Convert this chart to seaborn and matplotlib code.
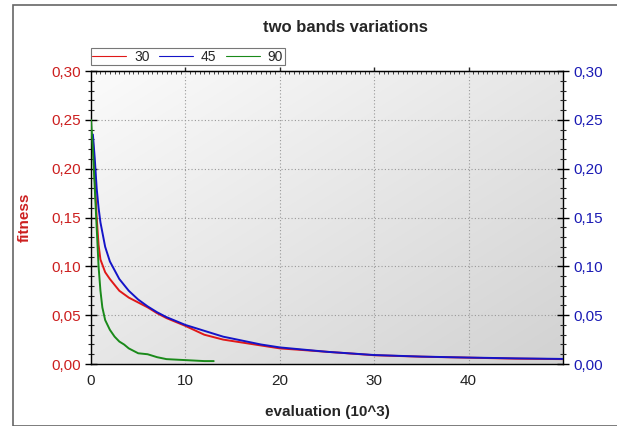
import numpy as np
import pandas as pd
import matplotlib
matplotlib.use('Agg')
import matplotlib.pyplot as plt
import seaborn as sns
from matplotlib.ticker import FuncFormatter, MultipleLocator, NullFormatter
from matplotlib.patches import Rectangle

# Data (evaluations in 10^3)
red_x = [0.2, 0.4, 0.6, 0.8, 1.0, 1.5, 2, 3, 4, 5, 6, 7, 8, 10, 12, 14, 16, 18, 20, 25, 30, 35, 40, 45, 50]
red_y = [0.23, 0.19, 0.15, 0.122, 0.107, 0.094, 0.087, 0.075, 0.068, 0.063, 0.058, 0.052, 0.047, 0.039,
         0.030, 0.025, 0.022, 0.019, 0.016, 0.0125, 0.009, 0.0075, 0.0065, 0.0055, 0.005]

blue_x = [0.2, 0.4, 0.6, 0.8, 1.0, 1.5, 2, 3, 4, 5, 6, 7, 8, 10, 12, 14, 16, 18, 20, 25, 30, 35, 40, 45, 50]
blue_y = [0.235, 0.21, 0.18, 0.16, 0.145, 0.12, 0.105, 0.087, 0.075, 0.066, 0.059, 0.053, 0.048, 0.040,
          0.034, 0.028, 0.024, 0.020, 0.017, 0.0125, 0.0092, 0.0076, 0.0066, 0.0058, 0.0052]

green_x = [0, 0.2, 0.4, 0.6, 0.8, 1.0, 1.2, 1.5, 2, 2.5, 3, 3.5, 4, 5, 6, 7, 8, 9, 10, 11, 12, 13]
green_y = [0.25, 0.22, 0.18, 0.14, 0.10, 0.075, 0.058, 0.045, 0.035, 0.028, 0.023, 0.020, 0.016, 0.011,
           0.010, 0.007, 0.005, 0.0045, 0.004, 0.0035, 0.003, 0.003]

series_names = ['30', '45', '90']
series_colors = ['#e01818', '#1414c8', '#1a8a1a']

df = pd.concat([
    pd.DataFrame({'x': red_x, 'y': red_y, 'band': '30'}),
    pd.DataFrame({'x': blue_x, 'y': blue_y, 'band': '45'}),
    pd.DataFrame({'x': green_x, 'y': green_y, 'band': '90'}),
])

sns.set_style('white')
plt.rcParams['font.family'] = ['Liberation Sans', 'DejaVu Sans']

fig = plt.figure(figsize=(6.17, 4.26), dpi=100)
ax = fig.add_axes([0.1475, 0.1455, 0.765, 0.6878])

# gradient background: light top-left, darker bottom-right
gx, gy = np.meshgrid(np.linspace(0, 1, 200), np.linspace(0, 1, 200))
grad = 0.5 * gx + 0.5 * gy
ax.imshow(grad, extent=[0, 50, 0, 0.30], aspect='auto', origin='upper',
          cmap=matplotlib.colors.LinearSegmentedColormap.from_list('g', ['#fbfbfb', '#d2d2d2']),
          zorder=0, interpolation='bicubic')

sns.lineplot(data=df, x='x', y='y', hue='band', palette=series_colors, hue_order=series_names,
             estimator=None, sort=False, linewidth=1.4, ax=ax, zorder=3)

ax.set_xlim(0, 50)
ax.set_ylim(0, 0.30)
ax.set_xticks([0, 10, 20, 30, 40])
ax.xaxis.set_minor_locator(MultipleLocator(2))
ax.yaxis.set_major_locator(MultipleLocator(0.05))
ax.yaxis.set_minor_locator(MultipleLocator(0.01))
comma = FuncFormatter(lambda v, p: f'{v:.2f}'.replace('.', ','))
ax.yaxis.set_major_formatter(comma)
ax.grid(True, which='major', color='#999999', linestyle=(0, (1, 2)), linewidth=0.8, zorder=1)

ax.tick_params(axis='y', which='major', direction='inout', length=8, width=1, colors='black',
               labelcolor='#cc1f1f', labelsize=11)
ax.tick_params(axis='y', which='minor', direction='inout', length=5, width=0.8)
ax.tick_params(axis='x', which='major', direction='inout', length=8, width=1, labelsize=11,
               labelcolor='#222222', top=False)
ax.tick_params(axis='x', which='minor', direction='inout', length=5, width=0.8, top=False)
for s in ax.spines.values():
    s.set_color('black')
    s.set_linewidth(1)

# small ticks along the top edge
top = ax.secondary_xaxis('top')
top.set_xticks([10, 20, 30, 40])
top.xaxis.set_minor_locator(MultipleLocator(0.5))
top.xaxis.set_major_formatter(NullFormatter())
top.tick_params(which='major', direction='out', length=3, width=1)
top.tick_params(which='minor', direction='in', length=2, width=0.6)

ax.set_xlabel('evaluation (10^3)', fontsize=11, fontweight='bold', labelpad=12)
ax.set_ylabel('fitness', fontsize=11, fontweight='bold', color='#cc1f1f', labelpad=14)

ax2 = ax.twinx()
ax2.set_ylim(0, 0.30)
ax2.yaxis.set_major_locator(MultipleLocator(0.05))
ax2.yaxis.set_minor_locator(MultipleLocator(0.01))
ax2.yaxis.set_major_formatter(comma)
ax2.tick_params(axis='y', which='major', direction='inout', length=8, width=1, colors='black',
                labelcolor='#1a1ab4', labelsize=11)
ax2.tick_params(axis='y', which='minor', direction='inout', length=5, width=0.8)
for s in ax2.spines.values():
    s.set_visible(False)

fig.text(0.56, 0.936, 'two bands variations', ha='center', va='center', fontsize=12, fontweight='bold')

leg = ax.legend(loc='lower left', bbox_to_anchor=(0.0, 1.02), ncol=3, frameon=True, fancybox=False,
                fontsize=10, handlelength=2.4, handletextpad=0.6, columnspacing=0.7,
                borderpad=0.1, borderaxespad=0)
leg.get_frame().set_edgecolor('#555555')
leg.get_frame().set_linewidth(0.8)
for line in leg.get_lines():
    line.set_linewidth(0.8)

# outer frame
fig.patches.append(Rectangle((13 / 617, 0), 1.2, 1 - 5 / 426, transform=fig.transFigure,
                             fill=False, edgecolor='#666666', linewidth=1.2))

fig.savefig('out.png', dpi=100)
